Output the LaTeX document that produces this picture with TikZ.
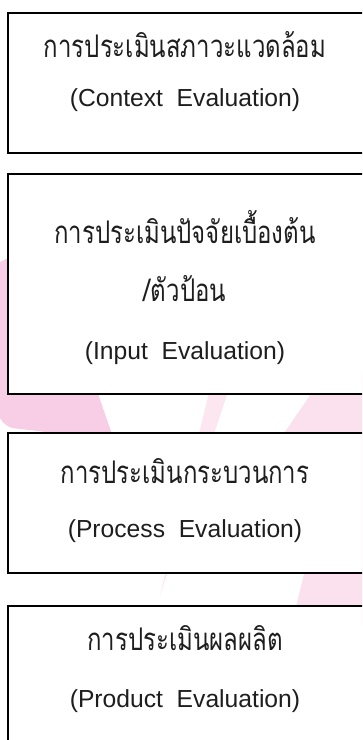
\documentclass[tikz,border=0pt]{standalone}
\usepackage{fontspec}
\setmainfont{Liberation Sans}
\newfontfamily\thaifont[Script=Thai]{Loma}
\usepackage{xcolor}
\usetikzlibrary{positioning}

\definecolor{pinkleft}{RGB}{248,206,230}
\definecolor{pinkright}{RGB}{251,224,238}
\definecolor{pinkmid}{RGB}{252,230,240}
\definecolor{inkgray}{RGB}{30,30,30}

\newcommand{\tallthai}[1]{\scalebox{1}[1.3]{#1}}

\begin{document}
\begin{tikzpicture}[x=0.75pt, y=-0.75pt,
        evalbox/.style={draw=black, line width=1.5pt, fill=white, anchor=north west,
            minimum width=268pt, inner sep=0pt},
        thline/.style={anchor=base, text=inkgray, font=\thaifont\fontsize{18}{20}\selectfont},
        enline/.style={anchor=base, text=inkgray, font=\fontsize{18.5}{20}\selectfont}]
        \useasboundingbox (0,0) rectangle (362,740);
        \clip (0,0) rectangle (362,740);
        % Pink background
        \fill[pinkleft] (0,262) -- (45,240) -- (114,440) -- (12,428) to[bend left=20] (0,418) -- cycle;
        \fill[pinkmid] (212,380) -- (232,380) -- (160,595) -- cycle;
        \fill[pinkright] (326,372) -- (278,442) -- (306,566) -- (294,615) -- (362,625) -- (362,372) -- cycle;
        % Boxes
        \node[evalbox, minimum height=105pt] (context) at (7,12) {};
        \node[evalbox, minimum height=165pt] (input) at (7,173) {};
        \node[evalbox, minimum height=105pt] (process) at (7,432) {};
        \node[evalbox, minimum height=105pt] (product) at (7,605) {};
        % Texts
        \node[thline] (contextth) at (185,57) {\tallthai{การประเมินสภาวะแวดล้อม}};
        \node[enline] (contexten) at (185,106) {(Context~~Evaluation)};
        \node[thline] (inputth) at (185,243) {\tallthai{การประเมินปัจจัยเบื้องต้น}};
        \node[thline] (inputth2) at (185,301) {\tallthai{/ตัวป้อน}};
        \node[enline] (inputen) at (185,359) {(Input~~Evaluation)};
        \node[thline] (processth) at (185,483) {\tallthai{การประเมินกระบวนการ}};
        \node[enline] (processen) at (185,537) {(Process~~Evaluation)};
        \node[thline] (productth) at (185,650) {\tallthai{การประเมินผลผลิต}};
        \node[enline] (producten) at (185,707) {(Product~~Evaluation)};
    \end{tikzpicture}
\end{document}
